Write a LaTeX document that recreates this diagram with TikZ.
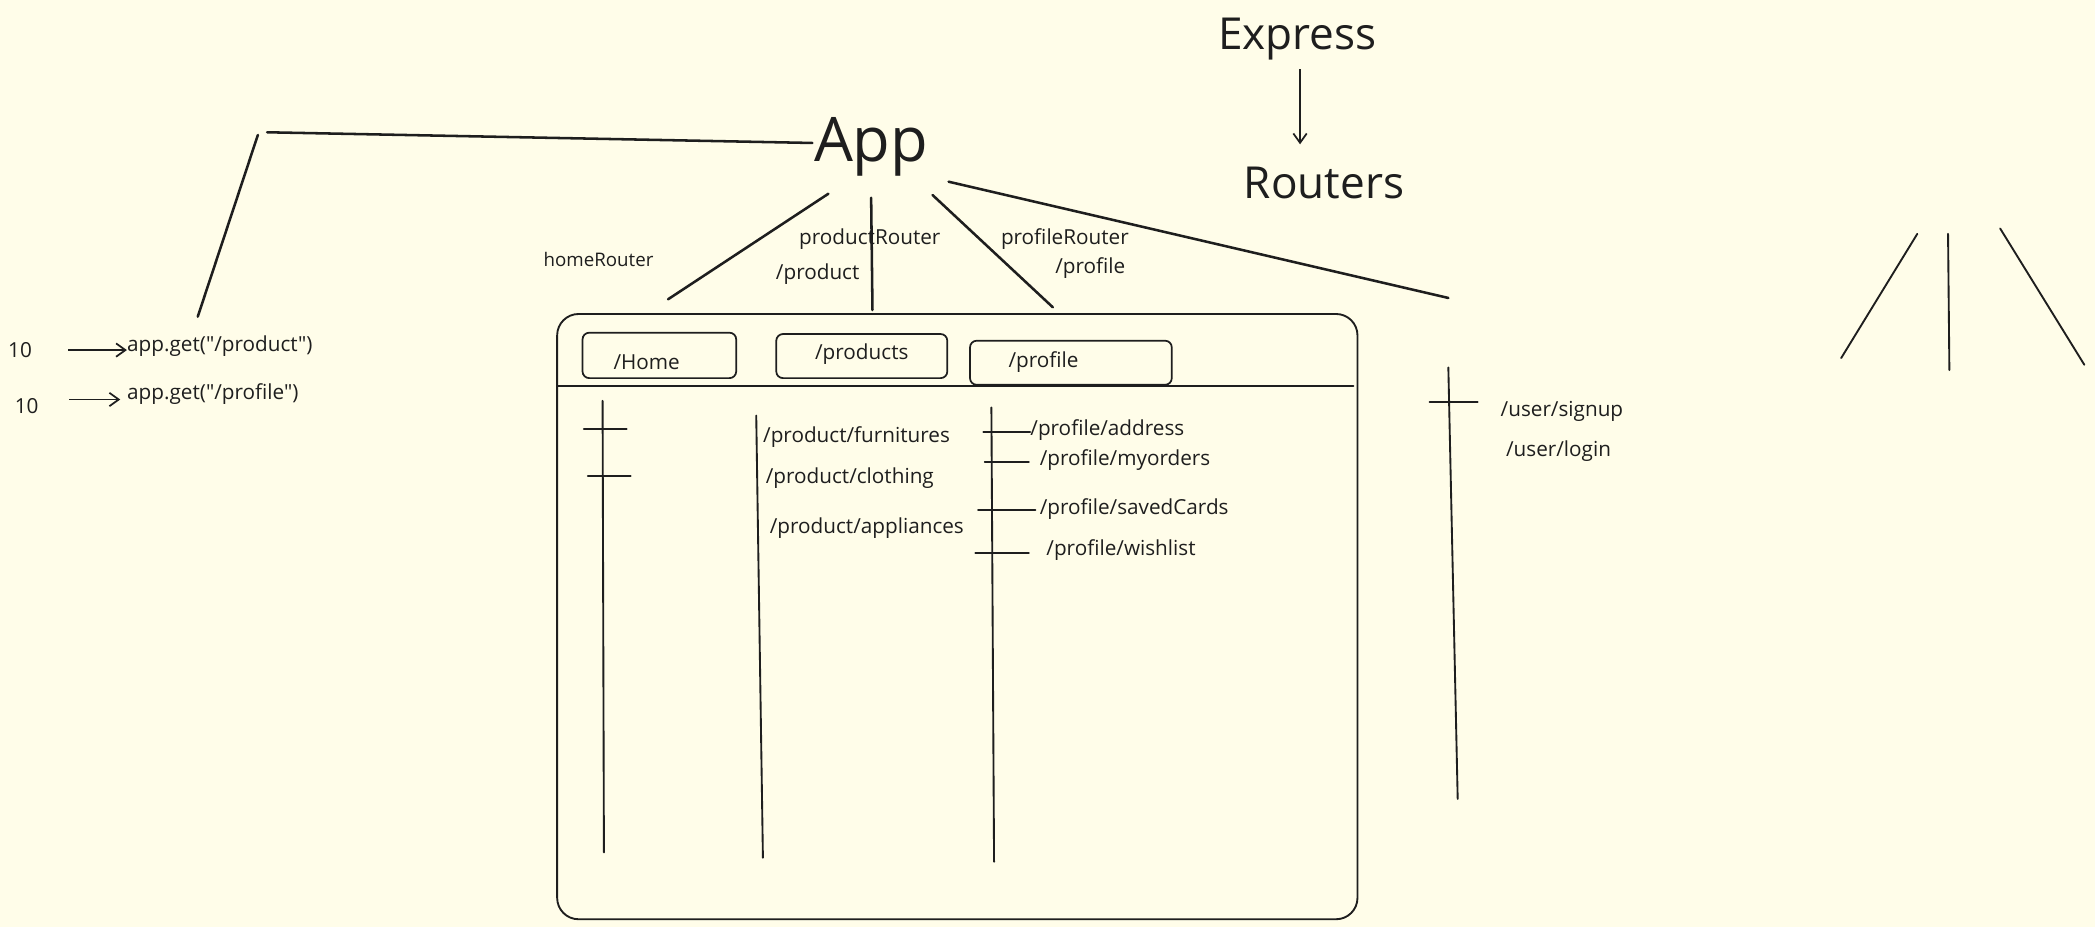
\documentclass[tikz,border=0pt]{standalone}
\usepackage{fontspec}
\setmainfont{Open Sans}[Ligatures=TeXOff]
\usetikzlibrary{arrows.meta}
\definecolor{bg}{HTML}{FFFDE9}
\definecolor{ink}{HTML}{1E1E1E}
\begin{document}
\begin{tikzpicture}[x=1pt,y=-1pt,
  ln/.style={draw=ink, line width=1.4pt, line cap=round},
  thickln/.style={draw=ink, line width=1.9pt, line cap=round},
  arr/.style={draw=ink, line width=1.3pt, -{Straight Barb[length=7pt,width=10pt]}},
  lbl/.style={inner sep=0pt, text=ink, font=\fontsize{15.5}{17}\selectfont, anchor=west},
  clbl/.style={inner sep=0pt, text=ink, font=\fontsize{15.5}{17}\selectfont},
  big/.style={inner sep=0pt, text=ink, font=\fontsize{33}{36}\selectfont},
  tab/.style={draw=ink, line width=1.3pt, rounded corners=5pt, inner sep=0pt}]
\fill[bg] (0,0) rectangle (1568,694);
\useasboundingbox (0,0) rectangle (1568,694);

% titles
\node[big] (express) at (971,29) {Express};
\node[big] (routers) at (991,137) {Routers};
\coordinate (ea) at (973,52); \coordinate (eb) at (973,108);
\draw[arr] (ea) -- (eb);
\node[inner sep=0pt, text=ink, font=\fontsize{46}{50}\selectfont] (app) at (652,110) {App};

% lines from App
\coordinate (l1a) at (608,107); \coordinate (l1b) at (200,99);
\coordinate (l2a) at (193,101); \coordinate (l2b) at (148,237);
\draw[thickln] (l1a) -- (l1b);
\draw[thickln] (l2a) -- (l2b);
\coordinate (h1) at (620,145); \coordinate (h2) at (500,224);
\coordinate (p1) at (652,148); \coordinate (p2) at (653,232);
\coordinate (f1) at (698,146); \coordinate (f2) at (788,230);
\coordinate (u1) at (710,136); \coordinate (u2) at (1084,223);
\draw[thickln] (h1) -- (h2);
\draw[thickln] (p1) -- (p2);
\draw[thickln] (f1) -- (f2);
\draw[thickln] (u1) -- (u2);

% router labels
\node[clbl, font=\fontsize{14}{16}\selectfont] (homeR) at (448,194) {homeRouter};
\node[clbl] (prodR) at (651,179) {productRouter};
\node[clbl] (prodP) at (612,205) {/product};
\node[clbl] (profR) at (797,179) {profileRouter};
\node[clbl] (profP) at (816,201) {/profile};

% big box
\draw[ln] (417,235) [rounded corners=16pt] -- (1016,235) -- (1016,688) -- (417,688) -- cycle;
\coordinate (sepL) at (417,289); \coordinate (sepR) at (1013,289);
\draw[ln] (sepL) -- (sepR);

% tabs
\node[tab, minimum width=115pt, minimum height=34pt] (tabH) at (493.5,266) {};
\node[tab, minimum width=128pt, minimum height=33pt] (tabP) at (645,266.5) {};
\node[tab, minimum width=151pt, minimum height=33pt] (tabF) at (801.5,271.5) {};
\node[clbl] (tHome) at (484,271) {/Home};
\node[clbl] (tProd) at (645,265) {/products};
\node[clbl] (tProf) at (781,271) {/profile};

% home column
\coordinate (hc1) at (451,300); \coordinate (hc2) at (452,638);
\draw[ln] (hc1) -- (hc2);
\coordinate (ht1a) at (437,321); \coordinate (ht1b) at (469,321);
\coordinate (ht2a) at (440,356); \coordinate (ht2b) at (472,356);
\draw[ln] (ht1a) -- (ht1b);
\draw[ln] (ht2a) -- (ht2b);

% products column
\coordinate (pc1) at (566,311); \coordinate (pc2) at (571,642);
\draw[ln] (pc1) -- (pc2);
\node[lbl] (pf) at (571,327) {/product/furnitures};
\node[lbl] (pcl) at (573,358) {/product/clothing};
\node[lbl] (pa) at (576,395) {/product/appliances};

% profile column
\coordinate (fc1) at (742,305); \coordinate (fc2) at (744,645);
\draw[ln] (fc1) -- (fc2);
\coordinate (ft1) at (736,323); \coordinate (ft2) at (737,346);
\coordinate (ft3) at (732,382); \coordinate (ft4) at (730,414);
\node[lbl] (fa) at (771,322) {/profile/address};
\node[lbl] (fm) at (778,344) {/profile/myorders};
\node[lbl] (fs) at (778,381) {/profile/savedCards};
\node[lbl] (fw) at (783,412) {/profile/wishlist};
\draw[ln] (ft1) -- (fa.west |- ft1);
\draw[ln] (ft2) -- ([xshift=-8pt]fm.west |- ft2);
\draw[ln] (ft3) -- ([xshift=-3pt]fs.west |- ft3);
\draw[ln] (ft4) -- ([xshift=-13pt]fw.west |- ft4);

% user column
\coordinate (uc1) at (1084,275); \coordinate (uc2) at (1091,598);
\draw[ln] (uc1) -- (uc2);
\coordinate (ut1) at (1070,301); \coordinate (ut2) at (1106,301);
\draw[ln] (ut1) -- (ut2);
\node[lbl] (us) at (1123,308) {/user/signup};
\node[lbl] (ul) at (1127,338) {/user/login};

% far right lines
\coordinate (r1a) at (1435,175); \coordinate (r1b) at (1378,268);
\coordinate (r2a) at (1458,175); \coordinate (r2b) at (1459,277);
\coordinate (r3a) at (1497,171); \coordinate (r3b) at (1560,273);
\draw[ln] (r1a) -- (r1b);
\draw[ln] (r2a) -- (r2b);
\draw[ln] (r3a) -- (r3b);

% left app.get
\node[clbl] (n1) at (15,262) {10};
\node[lbl] (g1) at (95,259) {app.get("/product")};
\node[clbl] (n2) at (20,304) {10};
\node[lbl] (g2) at (95,295) {app.get("/profile")};
\coordinate (a1) at (51,262); \coordinate (a2) at (52,299);
\draw[arr] (a1) -- (g1.west |- a1);
\draw[arr] (a2) -- ([xshift=-5pt]g2.west |- a2);
\end{tikzpicture}
\end{document}
